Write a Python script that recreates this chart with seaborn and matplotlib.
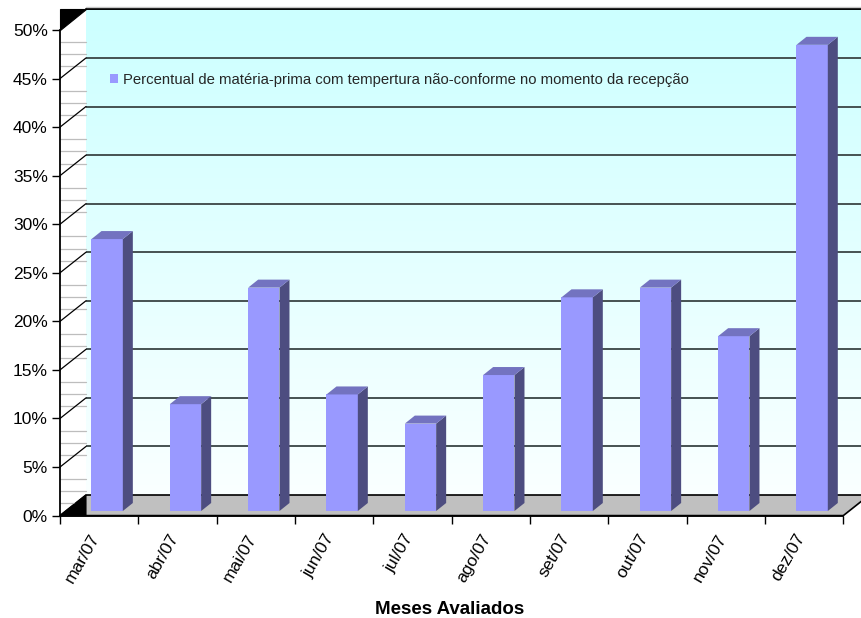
import numpy as np
import pandas as pd
import matplotlib
matplotlib.use("Agg")
import matplotlib.pyplot as plt
import matplotlib.transforms as mtransforms
import matplotlib.patches as mpatches
from matplotlib.patches import Polygon
from matplotlib.lines import Line2D
import seaborn as sns

# ---- data -------------------------------------------------------------
meses = ["mar/07", "abr/07", "mai/07", "jun/07", "jul/07",
         "ago/07", "set/07", "out/07", "nov/07", "dez/07"]
percentual = [28, 11, 23, 12, 9, 14, 22, 23, 18, 48]
y_ticks = [0, 5, 10, 15, 20, 25, 30, 35, 40, 45, 50]
y_tick_labels = ["0%", "5%", "10%", "15%", "20%", "25%",
                 "30%", "35%", "40%", "45%", "50%"]
serie_nome = ("Percentual de matéria-prima com tempertura "
              "não-conforme no momento da recepção")
eixo_x_titulo = "Meses Avaliados"

# ---- style ------------------------------------------------------------
sns.set_theme(style="white")
plt.rcParams["font.family"] = ["Liberation Sans", "DejaVu Sans"]

W, H, DPI = 862, 618, 100
fig = plt.figure(figsize=(W / DPI, H / DPI), dpi=DPI)
fig.patch.set_facecolor("white")

# front plane of the 3-D box (pixels, origin bottom-left)
X0, X1 = 60, 843.3
Y0, Y1 = 102.4, 588
DX, DY = 26, 20.6     # depth of the box (back wall offset)
BDX, BDY = 8, 4.6     # columns stand slightly behind the front plane
CDX, CDY = 10, 8      # depth of each column

FRONT = "#9999FF"
SIDE = "#4D4D80"
TOP = "#7373C0"
GRID = "#465252"

# ---- back wall with vertical gradient ---------------------------------
wall = fig.add_axes([(X0 + DX) / W, (Y0 + DY) / H,
                     (W - X0 - DX) / W, (Y1 - Y0) / H], zorder=0)
t = np.linspace(1, 0, 256)[:, None, None]
top_c = np.array([0.80, 1.0, 1.0])
bot_c = np.array([0.98, 1.0, 1.0])
grad = t * top_c + (1 - t) * bot_c
grad = np.repeat(grad, 2, axis=1)
wall.imshow(grad, extent=[0, 1, 0, 50], aspect="auto", origin="upper")
wall.set_xlim(0, 1)
wall.set_ylim(0, 50)
for v in y_ticks[1:-1]:
    wall.axhline(v, color=GRID, lw=1.4)
wall.axhline(50, color="black", lw=1.4, clip_on=False)
wall.axhline(50.25, color="#C8C8C8", lw=1.0, clip_on=False)
wall.axis("off")

# ---- main axes: front plane ------------------------------------------
ax = fig.add_axes([X0 / W, Y0 / H, (X1 - X0) / W, (Y1 - Y0) / H], zorder=1)
ax.patch.set_alpha(0)

df = pd.DataFrame({"mes": meses, "percentual": percentual})
sns.barplot(data=df, x="mes", y="percentual", color=FRONT, saturation=1,
            width=0.40, ax=ax)
ax.set_xlim(-0.5, len(meses) - 0.5)
ax.set_ylim(0, 50)
ax.set_autoscale_on(False)

ident = mtransforms.IdentityTransform()


def px(x, y):
    return ax.transData.transform((x, y))


# floor
f0, f1 = px(-0.5, 0), px(len(meses) - 0.5, 0)
floor = Polygon([f0, f1, f1 + (DX, DY), f0 + (DX, DY)], closed=True,
                facecolor="#C0C0C0", edgecolor="black", lw=1.2,
                transform=ident, clip_on=False, zorder=0.5)
ax.add_patch(floor)

# left side wall: corner triangles, diagonals and fine lines
b0, b50 = px(-0.5, 0), px(-0.5, 50)
ax.add_patch(Polygon([b0, b0 + (DX, DY), b0 + (DX, 0)], closed=True,
                     facecolor="black", edgecolor="black", lw=0.8,
                     transform=ident, clip_on=False, zorder=2))
ax.add_patch(Polygon([b50, b50 + (0, DY), b50 + (DX, DY)], closed=True,
                     facecolor="black", edgecolor="black", lw=0.8,
                     transform=ident, clip_on=False, zorder=2))
for v in np.arange(1.25, 50, 1.25):
    if v % 5 == 0:
        continue
    p = px(-0.5, v)
    ax.add_line(Line2D([p[0], p[0] + DX], [p[1], p[1]], color="#BDBDBD",
                       lw=0.9, transform=ident, clip_on=False, zorder=1))
for v in y_ticks[1:-1]:
    p = px(-0.5, v)
    ax.add_line(Line2D([p[0], p[0] + DX], [p[1], p[1] + DY], color="black",
                       lw=0.9, transform=ident, clip_on=False, zorder=2))

# columns: front faces moved back a little, plus side and top faces
bar_trans = mtransforms.offset_copy(ax.transData, fig=fig, x=BDX, y=BDY,
                                    units="dots")
for bar in list(ax.patches):
    if bar is floor or not isinstance(bar, mpatches.Rectangle):
        continue
    bar.set_transform(bar_trans)
    bar.set_clip_on(False)
    bar.set_linewidth(0)
    bar.set_edgecolor("none")
    bar.set_zorder(3)
    x, w, h = bar.get_x(), bar.get_width(), bar.get_height()
    p_rb = bar_trans.transform((x + w, 0))
    p_rt = bar_trans.transform((x + w, h))
    p_lt = bar_trans.transform((x, h))
    d = np.array([CDX, CDY])
    ax.add_patch(Polygon([p_rb, p_rt, p_rt + d, p_rb + d], closed=True,
                         facecolor=SIDE, edgecolor="none", transform=ident,
                         clip_on=False, zorder=3))
    ax.add_patch(Polygon([p_lt, p_rt, p_rt + d, p_lt + d], closed=True,
                         facecolor=TOP, edgecolor="none", transform=ident,
                         clip_on=False, zorder=3))

# ---- axes decoration --------------------------------------------------
for s in ["top", "right"]:
    ax.spines[s].set_visible(False)
for s in ["left", "bottom"]:
    ax.spines[s].set_visible(True)
    ax.spines[s].set_color("black")
    ax.spines[s].set_linewidth(1.3)
    ax.spines[s].set_zorder(2.5)
ax.grid(False)

ax.set_yticks(y_ticks, y_tick_labels)
ax.tick_params(axis="y", direction="out", length=5.8, width=1, color="black",
               labelsize=12.5, pad=3, left=True, labelcolor="black")

ax.set_xticks(range(len(meses)), meses)
ax.set_xticks(np.arange(-0.5, len(meses), 1), minor=True)
ax.tick_params(axis="x", which="major", length=0, pad=14, labelsize=12.5,
               labelcolor="black")
ax.tick_params(axis="x", which="minor", direction="out", length=5.8,
               width=1, color="black", bottom=True)
shift = mtransforms.ScaledTranslation(-3 / DPI, 0, fig.dpi_scale_trans)
for lab in ax.get_xticklabels():
    lab.set_rotation(60)
    lab.set_ha("right")
    lab.set_va("center")
    lab.set_rotation_mode("anchor")
    lab.set_transform(lab.get_transform() + shift)

ax.set_xlabel(eixo_x_titulo, fontsize=13.5, fontweight="bold", color="black")
ax.set_ylabel("")
ax.xaxis.label.set_va("center")
ax.xaxis.set_label_coords(0.498, -(609 - 515.6) / (Y1 - Y0))

# ---- legend -----------------------------------------------------------
handle = mpatches.Patch(facecolor=FRONT, edgecolor="none", label=serie_nome)
ax.legend(handles=[handle], loc="center left",
          bbox_to_anchor=(110 / W, (H - 80) / H), bbox_transform=fig.transFigure,
          frameon=False, fontsize=10.7, borderpad=0, borderaxespad=0,
          handlelength=0.55, handleheight=0.55, handletextpad=0.3)

fig.savefig("out.png", dpi=DPI, facecolor="white")
